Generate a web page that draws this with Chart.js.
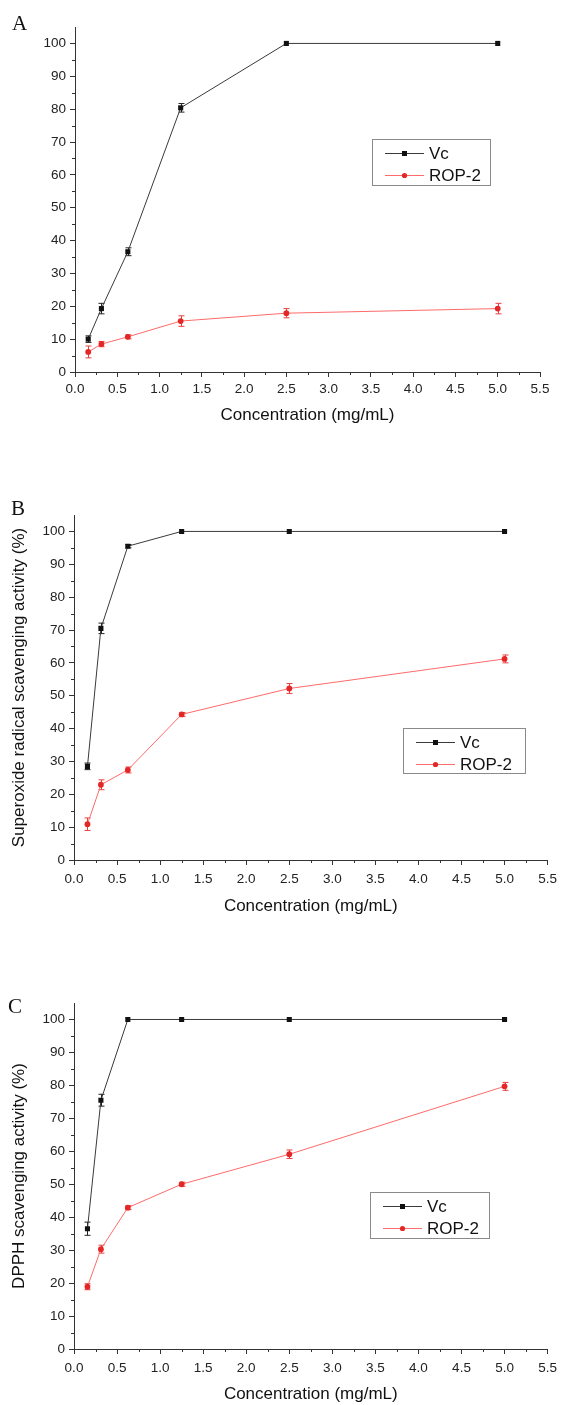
<!DOCTYPE html>
<html>
<head>
<meta charset="utf-8">
<script src="https://cdn.jsdelivr.net/npm/chart.js@4.4.0/dist/chart.umd.min.js"></script>
<style>
  body { margin: 0; background: #fff; width: 563px; height: 1405px; position: relative; overflow: hidden; }
  .panel { position: absolute; left: 0; }
  .letter { position: absolute; font-family: "Liberation Serif", "Times New Roman", serif; font-size: 21px; color: #111; line-height: 1; }
</style>
</head>
<body>
<div class="panel" style="top:0"><canvas id="chartA" width="563" height="432"></canvas></div>
<div class="panel" style="top:460px"><canvas id="chartB" width="563" height="460"></canvas></div>
<div class="panel" style="top:940px"><canvas id="chartC" width="563" height="465"></canvas></div>
<div class="letter" style="left:12px;top:13px">A</div>
<div class="letter" style="left:11px;top:498px">B</div>
<div class="letter" style="left:8px;top:996px">C</div>
<script>
// concentrations (mg/mL)
const concentrations = [0.15625, 0.3125, 0.625, 1.25, 2.5, 5];
const seriesNames = ['Vc', 'ROP-2'];

// panel A
const vcA = [10.0, 19.3, 36.6, 80.4, 100, 100];
const vcAErr = [1.0, 1.6, 1.2, 1.3, 0, 0];
const ropA = [6.1, 8.5, 10.7, 15.5, 17.9, 19.3];
const ropAErr = [1.8, 0.8, 0.6, 1.6, 1.4, 1.6];

// panel B - superoxide radical
const vcB = [28.5, 70.5, 95.5, 100, 100, 100];
const vcBErr = [1.0, 1.6, 0.5, 0, 0, 0];
const ropB = [10.9, 22.9, 27.4, 44.3, 52.2, 61.2];
const ropBErr = [1.9, 1.5, 0.9, 0.6, 1.5, 1.2];

// panel C - DPPH
const vcC = [36.5, 75.5, 100, 100, 100, 100];
const vcCErr = [2.0, 1.8, 0, 0, 0, 0];
const ropC = [18.9, 30.3, 42.9, 50.0, 59.1, 79.7];
const ropCErr = [0.9, 1.2, 0.6, 0.6, 1.3, 1.2];

// axis ticks
const xMin = 0, xMax = 5.5, xStep = 0.5;
const yMin = 0, yMax = 105, yStep = 10, yLastTick = 100;

const sansFont = '"Liberation Sans", Arial, sans-serif';

function toPoints(values) {
    return concentrations.map((c, i) => ({ x: c, y: values[i] }));
}

// error bars drawn under the lines and markers
const errorBars = {
    id: 'errorBars',
    beforeDatasetsDraw(chart) {
        const { ctx, scales: { x, y } } = chart;
        chart.data.datasets.forEach(ds => {
            if (!ds.errors) return;
            ctx.save();
            ctx.strokeStyle = ds.errorColor;
            ctx.lineWidth = 1;
            ds.data.forEach((p, j) => {
                const e = ds.errors[j];
                if (!e) return;
                const px = Math.round(x.getPixelForValue(p.x)) + 0.5;
                const top = y.getPixelForValue(p.y + e);
                const bot = y.getPixelForValue(p.y - e);
                ctx.beginPath();
                ctx.moveTo(px, top); ctx.lineTo(px, bot);
                ctx.moveTo(px - 3, top); ctx.lineTo(px + 3, top);
                ctx.moveTo(px - 3, bot); ctx.lineTo(px + 3, bot);
                ctx.stroke();
            });
            ctx.restore();
        });
    }
};

// half-step ticks between the labelled ones
const minorTicks = {
    id: 'minorTicks',
    afterDraw(chart) {
        const { ctx, scales: { x, y } } = chart;
        ctx.save();
        ctx.strokeStyle = '#333';
        ctx.lineWidth = 1;
        ctx.beginPath();
        for (let v = xMin + xStep / 2; v < xMax; v += xStep) {
            const px = Math.round(x.getPixelForValue(v)) + 0.5;
            ctx.moveTo(px, y.bottom);
            ctx.lineTo(px, y.bottom + 3);
        }
        for (let v = yMin + yStep / 2; v < yLastTick; v += yStep) {
            const py = Math.round(y.getPixelForValue(v)) + 0.5;
            ctx.moveTo(x.left, py);
            ctx.lineTo(x.left - 3, py);
        }
        ctx.stroke();
        ctx.restore();
    }
};

// boxed legend inside the plot
const boxLegend = {
    id: 'boxLegend',
    afterDraw(chart, args, opts) {
        const { ctx } = chart;
        ctx.save();
        ctx.strokeStyle = '#8a8a8a';
        ctx.lineWidth = 1;
        ctx.strokeRect(opts.left + 0.5, opts.top + 0.5, opts.width, opts.height);
        ctx.font = '17px ' + sansFont;
        ctx.textBaseline = 'middle';
        chart.data.datasets.forEach((ds, i) => {
            const ry = Math.round(opts.top + 14 + i * 21.5) + 0.5;
            ctx.strokeStyle = ds.borderColor;
            ctx.beginPath();
            ctx.moveTo(opts.left + 13, ry);
            ctx.lineTo(opts.left + 52, ry);
            ctx.stroke();
            ctx.fillStyle = ds.pointBackgroundColor;
            if (ds.pointStyle === 'rect') {
                ctx.fillRect(opts.left + 30, ry - 2.5, 5, 5);
            } else {
                ctx.beginPath();
                ctx.arc(opts.left + 32.5, ry, 2.6, 0, Math.PI * 2);
                ctx.fill();
            }
            ctx.fillStyle = '#111';
            ctx.fillText(ds.label, opts.left + 57, ry + 1);
        });
        ctx.restore();
    }
};

function makePanel(id, p) {
    const ctx = document.getElementById(id).getContext('2d');
    return new Chart(ctx, {
        type: 'line',
        data: {
            datasets: [
                {
                    label: seriesNames[0],
                    data: toPoints(p.vc),
                    errors: p.vcErr,
                    errorColor: '#222',
                    borderColor: '#3a3a3a',
                    borderWidth: 1,
                    pointStyle: 'rect',
                    pointRadius: 3.6,
                    pointBorderWidth: 0,
                    pointBackgroundColor: '#111'
                },
                {
                    label: seriesNames[1],
                    data: toPoints(p.rop),
                    errors: p.ropErr,
                    errorColor: '#e8403f',
                    borderColor: '#ff6a6a',
                    borderWidth: 1,
                    pointStyle: 'circle',
                    pointRadius: 2.9,
                    pointBorderWidth: 0,
                    pointBackgroundColor: '#e52626'
                }
            ]
        },
        options: {
            responsive: false,
            animation: false,
            devicePixelRatio: 1,
            layout: { padding: { left: 0, top: p.padTop, right: p.padRight, bottom: 0 } },
            scales: {
                x: {
                    type: 'linear',
                    min: xMin,
                    max: xMax,
                    afterFit: s => { s.height = p.xHeight; },
                    ticks: {
                        stepSize: xStep,
                        padding: p.xTickPad,
                        color: '#222',
                        font: { family: sansFont, size: 13.5 },
                        maxRotation: 0,
                        callback: v => v.toFixed(1)
                    },
                    grid: { drawOnChartArea: false, tickLength: 5, color: '#333' },
                    border: { color: '#333', width: 1 },
                    title: {
                        display: true,
                        text: 'Concentration (mg/mL)',
                        color: '#111',
                        font: { family: sansFont, size: 17 },
                        padding: { top: 0, bottom: p.xTitlePad }
                    }
                },
                y: {
                    min: yMin,
                    max: yMax,
                    afterFit: s => { s.width = p.yWidth; },
                    ticks: {
                        stepSize: yStep,
                        includeBounds: false,
                        padding: 4,
                        color: '#222',
                        font: { family: sansFont, size: 13.5 }
                    },
                    grid: { drawOnChartArea: false, tickLength: 5, color: '#333' },
                    border: { color: '#333', width: 1 },
                    title: {
                        display: !!p.yTitle,
                        text: p.yTitle || '',
                        color: '#111',
                        font: { family: sansFont, size: 17 },
                        padding: { top: 9, bottom: 0 }
                    }
                }
            },
            plugins: {
                legend: { display: false },
                tooltip: { enabled: false },
                boxLegend: p.legend
            }
        },
        plugins: [errorBars, minorTicks, boxLegend]
    });
}

makePanel('chartA', {
    vc: vcA, vcErr: vcAErr, rop: ropA, ropErr: ropAErr,
    padTop: 27, padRight: 23, yWidth: 75, xHeight: 60, xTickPad: 4, xTitlePad: 6,
    yTitle: null,
    legend: { left: 372, top: 139, width: 118, height: 46 }
});

makePanel('chartB', {
    vc: vcB, vcErr: vcBErr, rop: ropB, ropErr: ropBErr,
    padTop: 55, padRight: 13, yWidth: 74, xHeight: 60, xTickPad: 6, xTitlePad: 3,
    yTitle: 'Superoxide radical scavenging activity (%)',
    legend: { left: 403, top: 268, width: 122, height: 45 }
});

makePanel('chartC', {
    vc: vcC, vcErr: vcCErr, rop: ropC, ropErr: ropCErr,
    padTop: 63, padRight: 13, yWidth: 74, xHeight: 56, xTickPad: 6, xTitlePad: 0,
    yTitle: 'DPPH scavenging activity (%)',
    legend: { left: 370, top: 252, width: 119, height: 46 }
});
</script>
</body>
</html>
